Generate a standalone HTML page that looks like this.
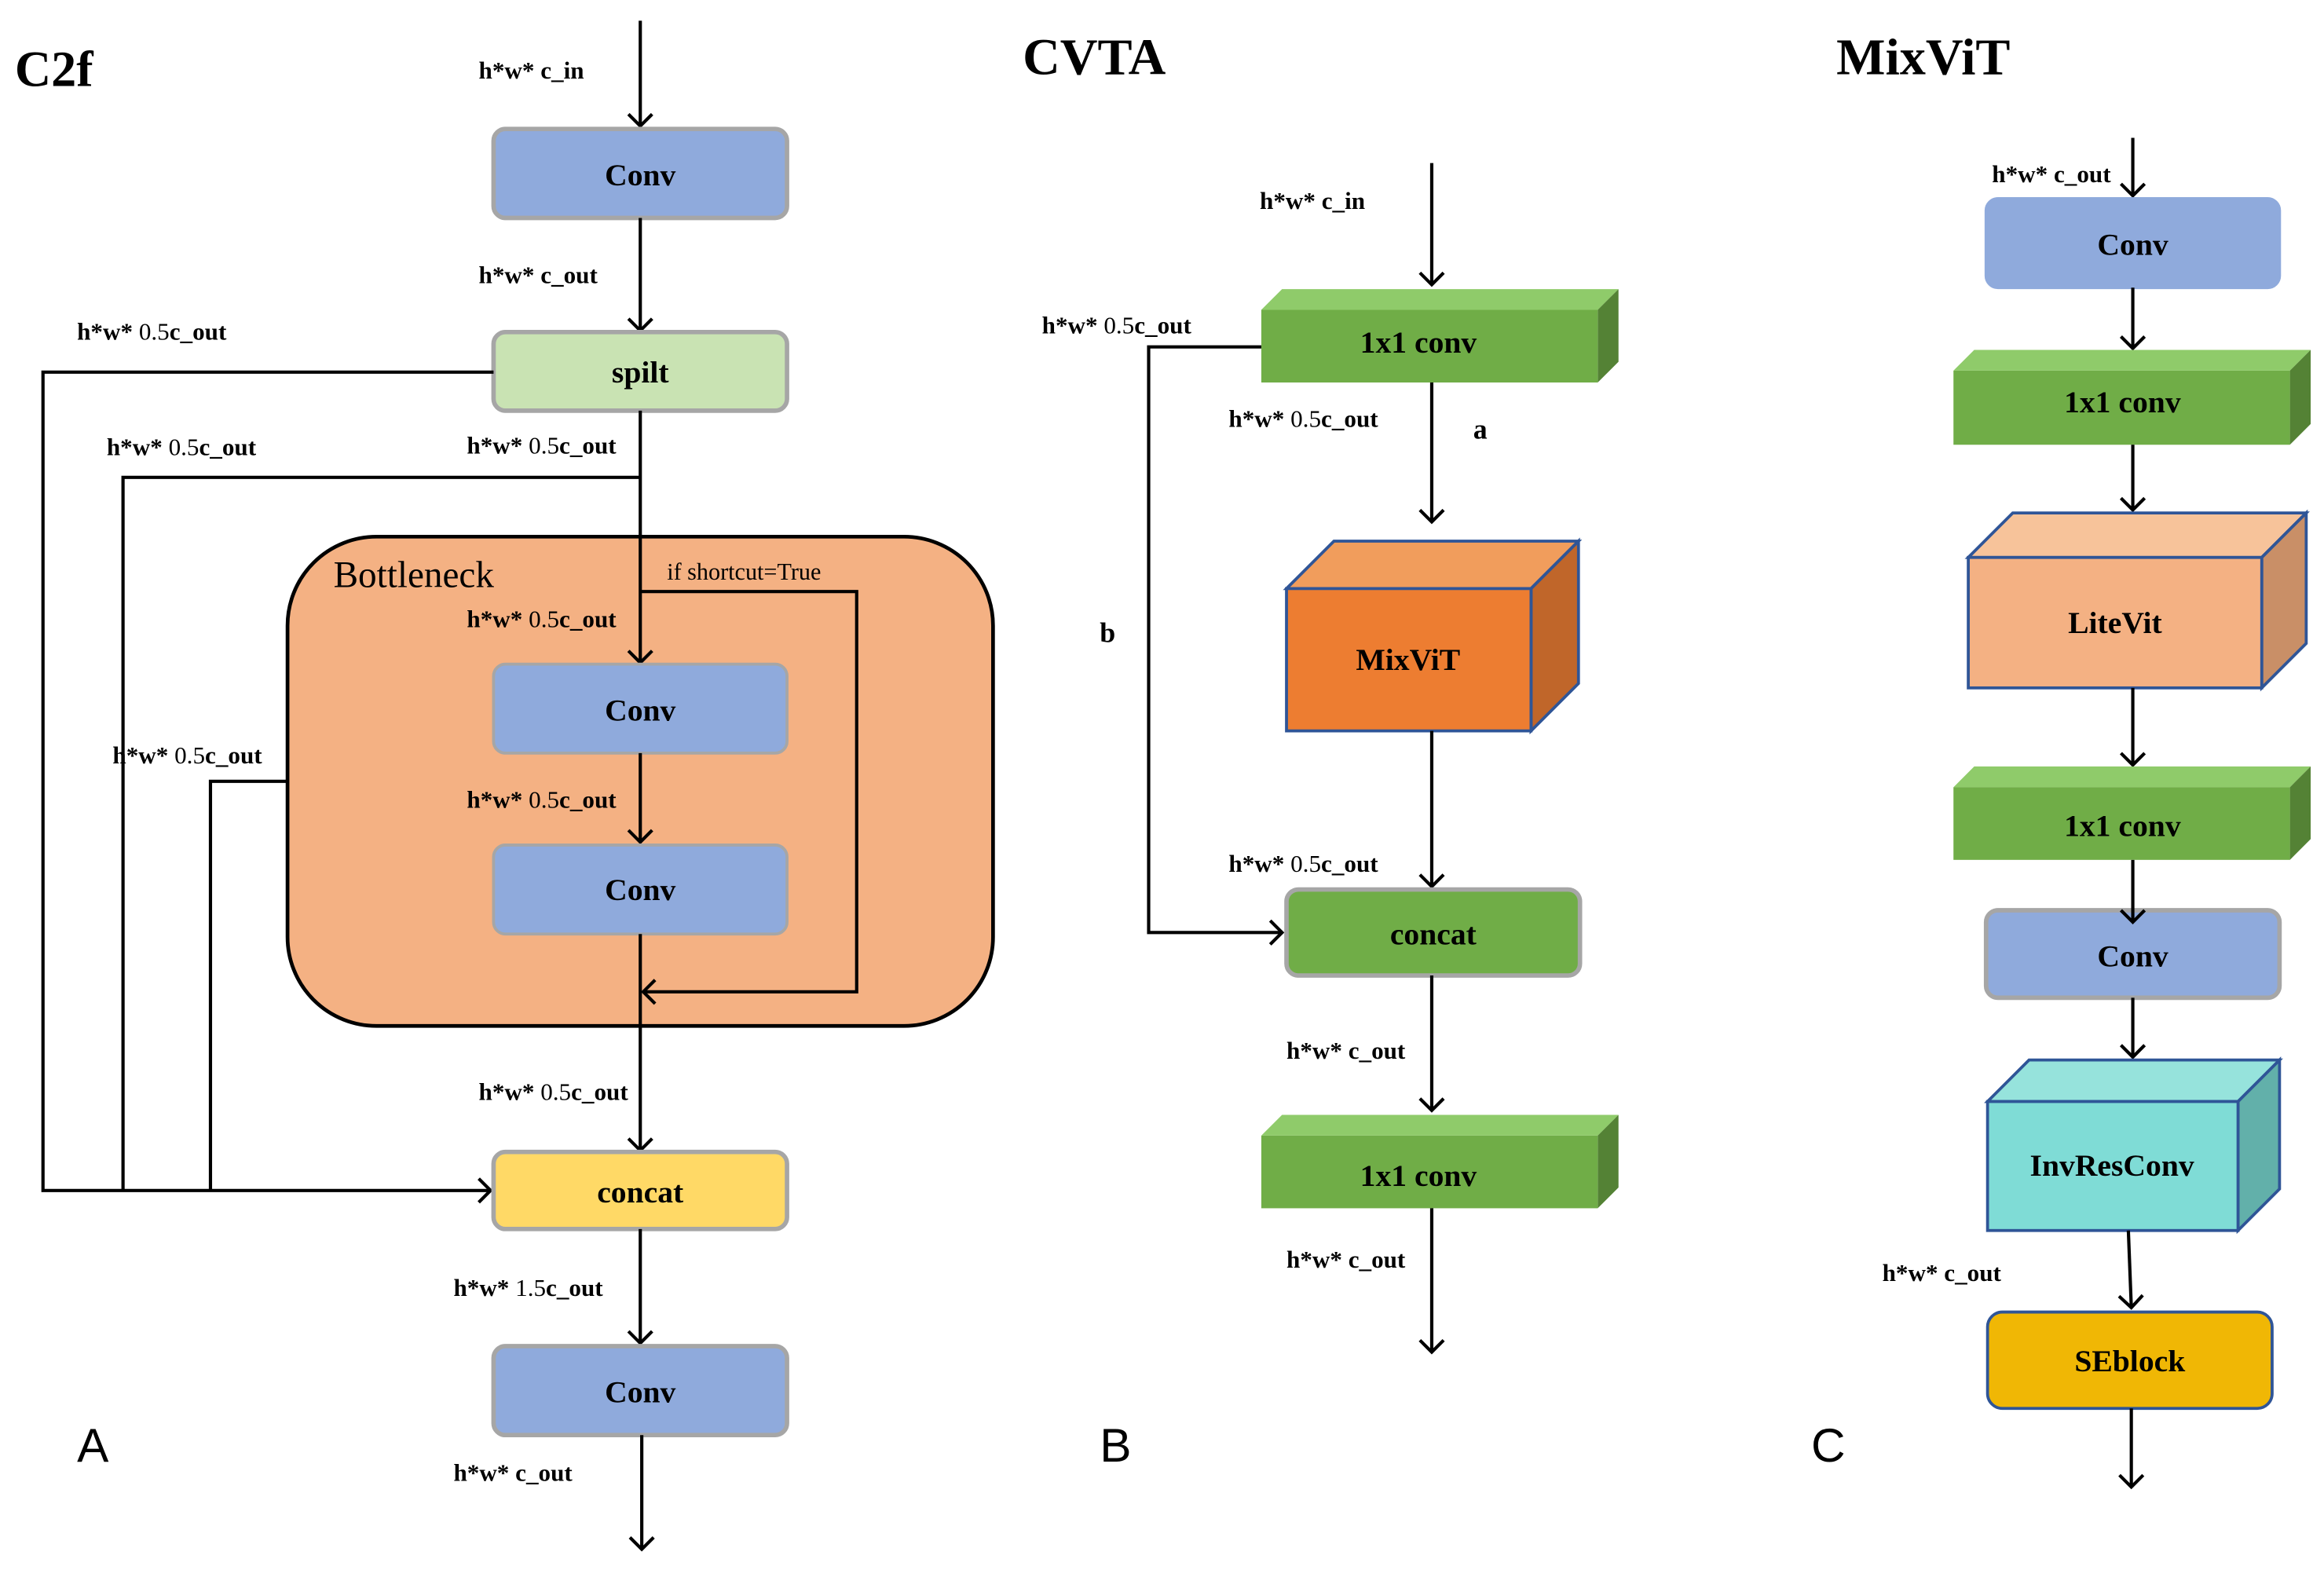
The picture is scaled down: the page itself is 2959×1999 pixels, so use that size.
<!DOCTYPE html>
<html><head><meta charset="utf-8"><style>
html,body{margin:0;padding:0;background:#fff;}
svg{display:block;}
text{font-family:"Liberation Serif",serif;fill:#000;}
.b{font-weight:bold;}
.lbl{font-size:16.5px;font-weight:bold;}
.box{font-size:21px;font-weight:bold;text-anchor:middle;}
.ln{stroke:#000;stroke-width:2.2;fill:none;}
</style></head><body>
<svg width="2959" height="1999" viewBox="0 0 1568 1059" preserveAspectRatio="none" xmlns="http://www.w3.org/2000/svg">
<defs>
<marker id="a" markerWidth="20" markerHeight="20" refX="10" refY="10" orient="auto" markerUnits="userSpaceOnUse">
<path d="M2,2 L10,10 L2,18" fill="none" stroke="#000" stroke-width="2.2"/>
</marker>
</defs>

<!-- ========== C2f ========== -->
<text x="10" y="58" class="b" font-size="34">C2f</text>
<line class="ln" x1="432" y1="14" x2="432" y2="85" marker-end="url(#a)"/>
<text x="323" y="53" class="lbl">h*w* c_in</text>
<rect x="333" y="87" width="198" height="60" rx="8" fill="#8faadc" stroke="#a6a6a6" stroke-width="3"/>
<text x="432" y="125" class="box">Conv</text>
<line class="ln" x1="432" y1="147" x2="432" y2="223" marker-end="url(#a)"/>
<text x="323" y="191" class="lbl">h*w* c_out</text>
<rect x="333" y="224" width="198" height="53" rx="8" fill="#c9e3b3" stroke="#a6a6a6" stroke-width="3"/>
<text x="432" y="258" class="box">spilt</text>
<text x="52" y="229" class="lbl">h*w* <tspan font-weight="normal">0.5</tspan>c_out</text>
<polyline class="ln" points="333,251 29,251 29,803 331,803" marker-end="url(#a)"/>
<line class="ln" x1="432" y1="277" x2="432" y2="447" marker-end="url(#a)"/>
<polyline class="ln" points="432,322 83,322 83,803"/>
<text x="72" y="307" class="lbl">h*w* <tspan font-weight="normal">0.5</tspan>c_out</text>
<text x="315" y="306" class="lbl">h*w* <tspan font-weight="normal">0.5</tspan>c_out</text>

<rect x="194" y="362" width="476" height="330" rx="60" fill="#f4b183" stroke="#000" stroke-width="2.5"/>
<text x="225" y="396" font-size="25">Bottleneck</text>
<text x="450" y="391" font-size="16">if shortcut=True</text>
<line class="ln" x1="432" y1="362" x2="432" y2="447" marker-end="url(#a)"/>
<polyline class="ln" points="432,399 578,399 578,669 434,669" marker-end="url(#a)"/>
<text x="315" y="423" class="lbl">h*w* <tspan font-weight="normal">0.5</tspan>c_out</text>
<rect x="333" y="448" width="198" height="60" rx="8" fill="#8faadc" stroke="#a6a6a6" stroke-width="2"/>
<text x="432" y="486" class="box">Conv</text>
<line class="ln" x1="432" y1="508" x2="432" y2="568" marker-end="url(#a)"/>
<text x="315" y="545" class="lbl">h*w* <tspan font-weight="normal">0.5</tspan>c_out</text>
<rect x="333" y="570" width="198" height="60" rx="8" fill="#8faadc" stroke="#a6a6a6" stroke-width="2"/>
<text x="432" y="607" class="box">Conv</text>
<line class="ln" x1="432" y1="630" x2="432" y2="776" marker-end="url(#a)"/>
<text x="323" y="742" class="lbl">h*w* <tspan font-weight="normal">0.5</tspan>c_out</text>
<polyline class="ln" points="194,527 142,527 142,803"/>
<text x="76" y="515" class="lbl">h*w* <tspan font-weight="normal">0.5</tspan>c_out</text>

<rect x="333" y="777" width="198" height="52" rx="8" fill="#ffd966" stroke="#a6a6a6" stroke-width="3"/>
<text x="432" y="811" class="box">concat</text>
<line class="ln" x1="432" y1="829" x2="432" y2="906" marker-end="url(#a)"/>
<text x="306" y="874" class="lbl">h*w* <tspan font-weight="normal">1.5</tspan>c_out</text>
<rect x="333" y="908" width="198" height="60" rx="8" fill="#8faadc" stroke="#a6a6a6" stroke-width="3"/>
<text x="432" y="946" class="box">Conv</text>
<line class="ln" x1="433" y1="968" x2="433" y2="1045" marker-end="url(#a)"/>
<text x="306" y="999" class="lbl">h*w* c_out</text>
<text x="52" y="986" font-size="32" style="font-family:'Liberation Sans',sans-serif">A</text>

<!-- ========== CVTA ========== -->
<text x="690" y="50" class="b" font-size="35">CVTA</text>
<line class="ln" x1="966" y1="110" x2="966" y2="192" marker-end="url(#a)"/>
<text x="850" y="141" class="lbl">h*w* c_in</text>
<polygon points="851,209 865,195 1092,195 1078,209" fill="#8fcb6a"/>
<polygon points="1078,209 1092,195 1092,244 1078,258" fill="#548235"/>
<rect x="851" y="209" width="227" height="49" fill="#70ad47"/>
<text x="957" y="238" class="box" font-size="20">1x1 conv</text>
<text x="703" y="225" class="lbl">h*w* <tspan font-weight="normal">0.5</tspan>c_out</text>
<polyline class="ln" points="851,234 775,234 775,629 865,629" marker-end="url(#a)"/>
<text x="742" y="433" class="b" font-size="19">b</text>
<line class="ln" x1="966" y1="258" x2="966" y2="352" marker-end="url(#a)"/>
<text x="829" y="288" class="lbl">h*w* <tspan font-weight="normal">0.5</tspan>c_out</text>
<text x="994" y="296" class="b" font-size="19">a</text>
<polygon points="868,397 900,365 1065,365 1033,397" fill="#f19d5c" stroke="#2f5597" stroke-width="2"/>
<polygon points="1033,397 1065,365 1065,461 1033,493" fill="#c0662a" stroke="#2f5597" stroke-width="2"/>
<rect x="868" y="397" width="165" height="96" fill="#ed7d31" stroke="#2f5597" stroke-width="2"/>
<text x="950" y="452" class="box">MixViT</text>
<line class="ln" x1="966" y1="493" x2="966" y2="598" marker-end="url(#a)"/>
<text x="829" y="588" class="lbl">h*w* <tspan font-weight="normal">0.5</tspan>c_out</text>
<rect x="868" y="600" width="198" height="58" rx="8" fill="#70ad47" stroke="#a6a6a6" stroke-width="3"/>
<text x="967" y="637" class="box">concat</text>
<line class="ln" x1="966" y1="658" x2="966" y2="749" marker-end="url(#a)"/>
<text x="868" y="714" class="lbl">h*w* c_out</text>
<polygon points="851,766 865,752 1092,752 1078,766" fill="#8fcb6a"/>
<polygon points="1078,766 1092,752 1092,801 1078,815" fill="#548235"/>
<rect x="851" y="766" width="227" height="49" fill="#70ad47"/>
<text x="957" y="800" class="box" font-size="20">1x1 conv</text>
<line class="ln" x1="966" y1="815" x2="966" y2="912" marker-end="url(#a)"/>
<text x="868" y="855" class="lbl">h*w* c_out</text>
<text x="742" y="986" font-size="32" style="font-family:'Liberation Sans',sans-serif">B</text>

<!-- ========== MixViT ========== -->
<text x="1239" y="50" class="b" font-size="35">MixViT</text>
<line class="ln" x1="1439" y1="93" x2="1439" y2="132" marker-end="url(#a)"/>
<text x="1344" y="123" class="lbl">h*w* c_out</text>
<rect x="1340" y="134" width="198" height="60" rx="8" fill="#8faadc" stroke="#8faadc" stroke-width="2"/>
<text x="1439" y="172" class="box">Conv</text>
<line class="ln" x1="1439" y1="194" x2="1439" y2="235" marker-end="url(#a)"/>
<polygon points="1318,250 1332,236 1559,236 1545,250" fill="#8fcb6a"/>
<polygon points="1545,250 1559,236 1559,286 1545,300" fill="#548235"/>
<rect x="1318" y="250" width="227" height="50" fill="#70ad47"/>
<text x="1432" y="278" class="box" font-size="20">1x1 conv</text>
<line class="ln" x1="1439" y1="300" x2="1439" y2="344" marker-end="url(#a)"/>
<polygon points="1328,376 1358,346 1556,346 1526,376" fill="#f7c39a" stroke="#2f5597" stroke-width="2"/>
<polygon points="1526,376 1556,346 1556,434 1526,464" fill="#c98f67" stroke="#2f5597" stroke-width="2"/>
<rect x="1328" y="376" width="198" height="88" fill="#f4b183" stroke="#2f5597" stroke-width="2"/>
<text x="1427" y="427" class="box">LiteVit</text>
<line class="ln" x1="1439" y1="464" x2="1439" y2="516" marker-end="url(#a)"/>
<polygon points="1318,531 1332,517 1559,517 1545,531" fill="#8fcb6a"/>
<polygon points="1545,531 1559,517 1559,566 1545,580" fill="#548235"/>
<rect x="1318" y="531" width="227" height="49" fill="#70ad47"/>
<text x="1432" y="564" class="box" font-size="20">1x1 conv</text>
<rect x="1340" y="614" width="198" height="59" rx="8" fill="#8faadc" stroke="#a6a6a6" stroke-width="3"/>
<line class="ln" x1="1439" y1="580" x2="1439" y2="622" marker-end="url(#a)"/>
<text x="1439" y="652" class="box">Conv</text>
<line class="ln" x1="1439" y1="673" x2="1439" y2="713" marker-end="url(#a)"/>
<polygon points="1341,743 1369,715 1538,715 1510,743" fill="#96e3dc" stroke="#2f5597" stroke-width="2"/>
<polygon points="1510,743 1538,715 1538,802 1510,830" fill="#62b0aa" stroke="#2f5597" stroke-width="2"/>
<rect x="1341" y="743" width="169" height="87" fill="#7fdcd6" stroke="#2f5597" stroke-width="2"/>
<text x="1425" y="793" class="box">InvResConv</text>
<line class="ln" x1="1436" y1="830" x2="1438" y2="882" marker-end="url(#a)"/>
<text x="1270" y="864" class="lbl">h*w* c_out</text>
<rect x="1341" y="885" width="192" height="65" rx="10" fill="#f0b705" stroke="#2f5597" stroke-width="2"/>
<text x="1437" y="925" class="box">SEblock</text>
<line class="ln" x1="1438" y1="950" x2="1438" y2="1003" marker-end="url(#a)"/>
<text x="1222" y="986" font-size="32" style="font-family:'Liberation Sans',sans-serif">C</text>
</svg>
</body></html>
